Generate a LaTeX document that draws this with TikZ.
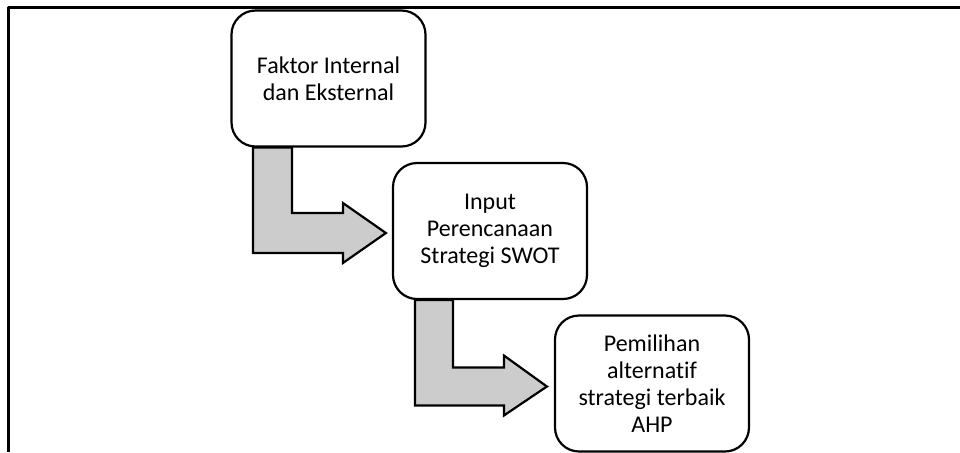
\documentclass[tikz,border=0pt]{standalone}
\usepackage{fontspec}
\setmainfont[Ligatures=NoCommon]{Carlito}
\usetikzlibrary{calc}

\begin{document}
\begin{tikzpicture}[x=0.5pt, y=-0.5pt, line cap = round, line join = round]
\tikzstyle{stage}=[draw=black, line width=1.1pt, rounded corners=12pt, fill=white, minimum width=97pt, minimum height=68pt, inner sep=0pt, align=center, font=\fontsize{12}{13.6}\selectfont]
\tikzstyle{bent}=[draw=black, line width=1.1pt, fill=black!20, line join=miter]
\useasboundingbox (0,0) rectangle (960,452);
\draw[line width=1.1pt, line cap=butt] (960,7.5) -- (8.5,7.5) -- (8.5,452);

\node[stage] (faktor) at (328.5,78.5) {Faktor Internal\\dan Eksternal};
\node[stage] (swot) at (490,231) {Input\\Perencanaan\\Strategi SWOT};
\node[stage] (ahp) at (652,383.5) {Pemilihan\\alternatif\\strategi terbaik\\AHP};

\coordinate (top1) at ($(faktor.south)+(-75.5,0)$);
\coordinate (tip1) at ($(swot.west)+(-6,2)$);
\coordinate (top2) at ($(swot.south)+(-75,0)$);
\coordinate (tip2) at ($(ahp.west)+(-7,3)$);

\draw[bent] (top1) -- ($(top1 |- tip1)+(0,20)$) -- ($(tip1)+(-43,20)$) -- ($(tip1)+(-43,30)$) -- (tip1)
  -- ($(tip1)+(-43,-30)$) -- ($(tip1)+(-43,-20)$) -- ($(top1 |- tip1)+(39,-20)$) -- ($(top1)+(39,0)$) -- cycle;
\draw[bent] (top2) -- ($(top2 |- tip2)+(0,19)$) -- ($(tip2)+(-43,19)$) -- ($(tip2)+(-43,29)$) -- (tip2)
  -- ($(tip2)+(-43,-31)$) -- ($(tip2)+(-43,-19)$) -- ($(top2 |- tip2)+(38,-19)$) -- ($(top2)+(38,0)$) -- cycle;
\end{tikzpicture}
\end{document}
